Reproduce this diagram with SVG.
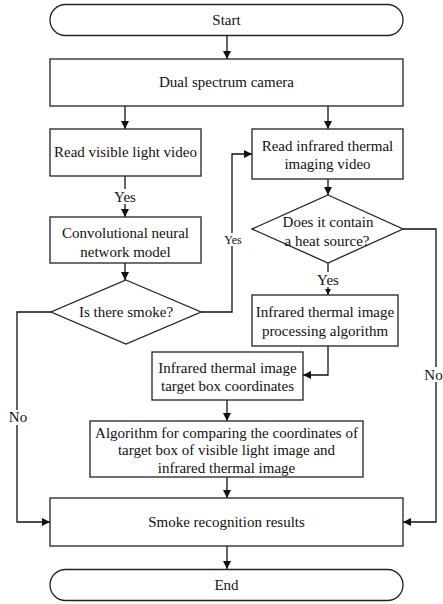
<svg xmlns="http://www.w3.org/2000/svg" width="443" height="604" viewBox="0 0 443 604" font-family="Liberation Serif, Times New Roman, serif">
<defs>
<marker id="ah" viewBox="0 0 10 10" refX="10" refY="5" markerWidth="8" markerHeight="8" markerUnits="userSpaceOnUse" orient="auto">
<path d="M0,0 L10,5 L0,10 Z" fill="#111"/>
</marker>
<marker id="ahs" viewBox="0 0 10 10" refX="10" refY="5" markerWidth="6" markerHeight="6" markerUnits="userSpaceOnUse" orient="auto">
<path d="M0,0 L10,5 L0,10 Z" fill="#111"/>
</marker>
</defs>
<style>
.n{fill:#fff;stroke:#222;stroke-width:1.3}
.t{font-family:'Liberation Serif','Times New Roman',serif;font-size:15px;fill:#111;text-anchor:middle}
.s{font-family:'Liberation Serif','Times New Roman',serif;font-size:12px;fill:#111;text-anchor:middle}
.c{fill:none;stroke:#111;stroke-width:1.3}
.bg{fill:#fff}
</style>
<rect width="443" height="604" fill="#fff"/>
<g id="connectors">
<path class="c" d="M227,35 V59" marker-end="url(#ah)"/>
<path class="c" d="M125,106 V129" marker-end="url(#ah)"/>
<path class="c" d="M328,106 V129" marker-end="url(#ah)"/>
<path class="c" d="M125,176 V217" marker-end="url(#ah)"/>
<path class="c" d="M125,263 V280" marker-end="url(#ah)"/>
<path class="c" d="M201,312 H232 V154 H252" marker-end="url(#ah)"/>
<path class="c" d="M328,179 V195" marker-end="url(#ah)"/>
<path class="c" d="M328,263 V295" marker-end="url(#ahs)"/>
<path class="c" d="M328,346 V375 H303" marker-end="url(#ah)"/>
<path class="c" d="M227,400 V421" marker-end="url(#ah)"/>
<path class="c" d="M227,477 V498" marker-end="url(#ah)"/>
<path class="c" d="M51,312 H17 V522 H50" marker-end="url(#ah)"/>
<path class="c" d="M403,229 H436 V522 H403" marker-end="url(#ah)"/>
<path class="c" d="M227,546 V569" marker-end="url(#ah)"/>
<rect class="bg" x="112" y="189" width="26" height="15"/>
<text class="t" x="125" y="202">Yes</text>
<rect class="bg" x="223" y="233" width="20" height="13"/>
<text class="s" x="233" y="244">Yes</text>
<rect class="bg" x="315" y="272" width="26" height="15"/>
<text class="t" x="328" y="285">Yes</text>
<rect class="bg" x="8" y="410" width="20" height="15"/>
<text class="t" x="18" y="422">No</text>
<rect class="bg" x="425" y="367" width="18" height="15"/>
<text class="t" x="433.5" y="380">No</text>
</g>
<g id="start">
<rect class="n" x="50" y="4.5" width="353" height="31" rx="15.5"/>
<text class="t" x="226.5" y="25">Start</text>
</g>
<g id="camera">
<rect class="n" x="50" y="59" width="353" height="47"/>
<text class="t" x="226.5" y="87">Dual spectrum camera</text>
</g>
<g id="visible">
<rect class="n" x="50" y="129" width="151" height="47"/>
<text class="t" x="125.5" y="157">Read visible light video</text>
</g>
<g id="infrared">
<rect class="n" x="252" y="129" width="151" height="50"/>
<text class="t" x="327.5" y="151">Read infrared thermal</text>
<text class="t" x="327.5" y="169">imaging video</text>
</g>
<g id="cnn">
<rect class="n" x="50" y="217" width="151" height="46"/>
<text class="t" x="125.5" y="238">Convolutional neural</text>
<text class="t" x="125.5" y="257">network model</text>
</g>
<g id="smoke">
<polygon class="n" points="126,280 201,312 126,344 51,312"/>
<text class="t" x="126" y="317">Is there smoke?</text>
</g>
<g id="heat">
<polygon class="n" points="328,195 403,229 328,263 252,229"/>
<text class="t" x="328" y="227">Does it contain</text>
<text class="t" x="327" y="246">a heat source?</text>
</g>
<g id="processing">
<rect class="n" x="252" y="295" width="146" height="51"/>
<text class="t" x="325" y="317">Infrared thermal image</text>
<text class="t" x="325" y="336">processing algorithm</text>
</g>
<g id="target">
<rect class="n" x="152" y="352" width="151" height="48"/>
<text class="t" x="227.5" y="373">Infrared thermal image</text>
<text class="t" x="227.5" y="391">target box coordinates</text>
</g>
<g id="compare">
<rect class="n" x="90" y="421" width="273" height="56"/>
<text class="t" x="226.5" y="438">Algorithm for comparing the coordinates of</text>
<text class="t" x="226.5" y="455">target box of visible light image and</text>
<text class="t" x="226.5" y="473">infrared thermal image</text>
</g>
<g id="results">
<rect class="n" x="50" y="498" width="353" height="48"/>
<text class="t" x="226.5" y="527">Smoke recognition results</text>
</g>
<g id="end">
<rect class="n" x="50" y="569.5" width="353" height="31" rx="15.5"/>
<text class="t" x="226.5" y="590">End</text>
</g>
</svg>
